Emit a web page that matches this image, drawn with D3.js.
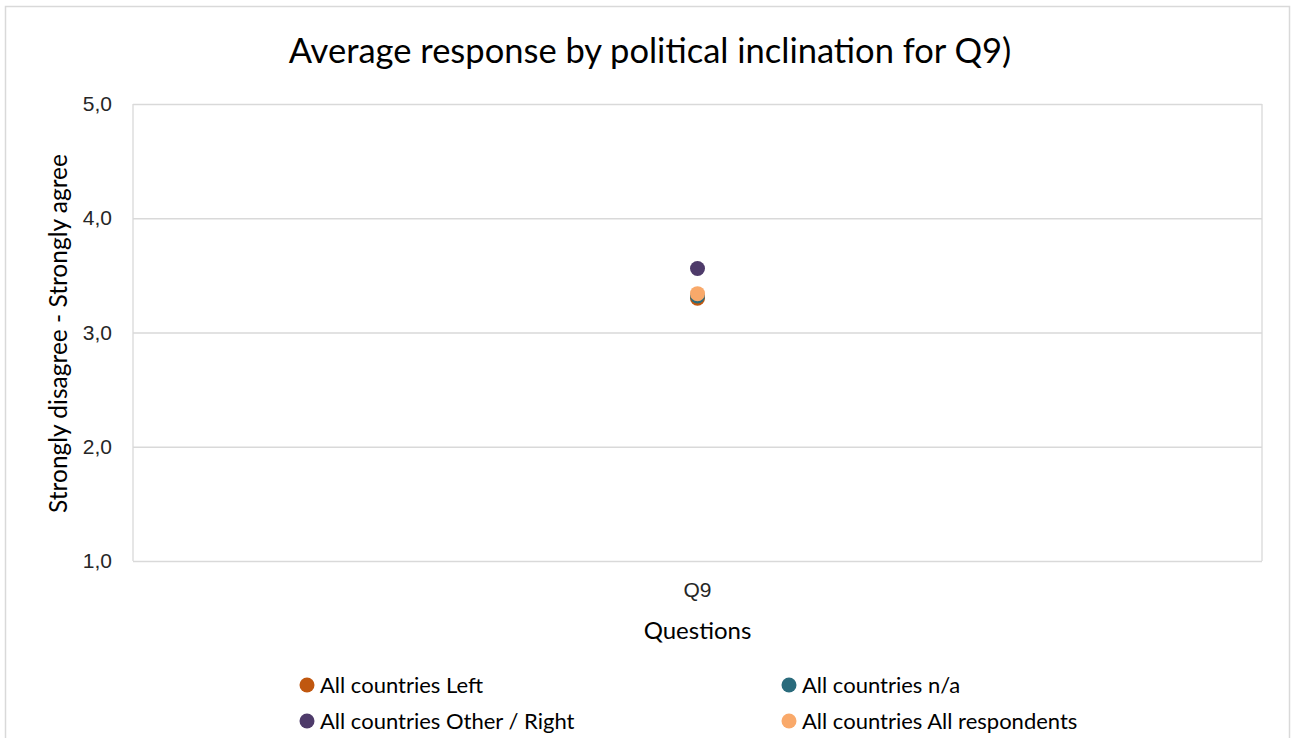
<!DOCTYPE html>
<html>
<head>
<meta charset="utf-8">
<script src="https://cdn.jsdelivr.net/npm/d3@7"></script>
<style>
  html, body { margin: 0; padding: 0; background: #fff; }
  svg { display: block; font-family: Lato, "Open Sans", sans-serif; }
</style>
</head>
<body>
<svg id="chart" width="1292" height="738"></svg>
<script>
// Chart data
const categories = ["Q9"];
const seriesNames = [
  "All countries Left",
  "All countries n/a",
  "All countries Other / Right",
  "All countries All respondents"
];
const seriesColors = ["#C0570F", "#2A6B7C", "#4E3B6A", "#F9A96A"];
const seriesValues = [
  [3.30],
  [3.32],
  [3.56],
  [3.34]
];
const yTicks = [1, 2, 3, 4, 5];

const titleText = "Average response by political inclination for Q9)";
const xTitle = "Questions";
const yTitle = "Strongly disagree - Strongly agree";

const svg = d3.select("#chart");
const plot = { left: 133, right: 1262, top: 104, bottom: 561 };

// Outer chart frame
svg.append("rect")
  .attr("x", 5.5).attr("y", 6.5)
  .attr("width", 1284).attr("height", 740)
  .attr("fill", "#fff").attr("stroke", "#d9d9d9").attr("stroke-width", 1.5);

const x = d3.scaleBand().domain(categories).range([plot.left, plot.right]);
const y = d3.scaleLinear().domain([1, 5]).range([plot.bottom, plot.top]);

// Horizontal gridlines and y tick labels
const yAxis = d3.axisLeft(y)
  .tickValues(yTicks)
  .tickSize(-(plot.right - plot.left))
  .tickPadding(21)
  .tickFormat(d => d3.format(".1f")(d).replace(".", ","));

const gy = svg.append("g")
  .attr("transform", `translate(${plot.left},0)`)
  .call(yAxis);
gy.select(".domain").remove();
gy.selectAll(".tick line").attr("stroke", "#d9d9d9").attr("stroke-width", 1.3);
gy.selectAll(".tick text")
  .attr("fill", "#262626")
  .style("font-size", "21px");

// Plot area side borders
svg.append("line")
  .attr("x1", plot.left).attr("x2", plot.left)
  .attr("y1", plot.top).attr("y2", plot.bottom)
  .attr("stroke", "#d9d9d9").attr("stroke-width", 1.3);
svg.append("line")
  .attr("x1", plot.right).attr("x2", plot.right)
  .attr("y1", plot.top).attr("y2", plot.bottom)
  .attr("stroke", "#d9d9d9").attr("stroke-width", 1.3);

// Category axis labels
const xAxis = d3.axisBottom(x).tickSize(0).tickPadding(21);
const gx = svg.append("g")
  .attr("transform", `translate(0,${plot.bottom})`)
  .call(xAxis);
gx.select(".domain").remove();
gx.selectAll(".tick text")
  .attr("fill", "#262626")
  .style("font-size", "21px");

// Series markers
seriesValues.forEach((vals, i) => {
  svg.append("g")
    .selectAll("circle")
    .data(vals.map((v, j) => ({ cat: categories[j], v })))
    .join("circle")
    .attr("cx", d => x(d.cat) + x.bandwidth() / 2)
    .attr("cy", d => y(d.v))
    .attr("r", 7.5)
    .attr("fill", seriesColors[i]);
});

// Titles
svg.append("text")
  .attr("x", 650).attr("y", 63)
  .attr("text-anchor", "middle")
  .attr("fill", "#000")
  .style("font-size", "34.5px")
  .text(titleText);

svg.append("text")
  .attr("x", (plot.left + plot.right) / 2).attr("y", 639)
  .attr("text-anchor", "middle")
  .attr("fill", "#000")
  .style("font-size", "24px")
  .text(xTitle);

svg.append("text")
  .attr("transform", `translate(67,${(plot.top + plot.bottom) / 2 + 1}) rotate(-90)`)
  .attr("text-anchor", "middle")
  .attr("fill", "#000")
  .style("font-size", "24.5px")
  .text(yTitle);

// Legend
const legendPos = [
  { x: 307, y: 685 },
  { x: 789, y: 685 },
  { x: 307, y: 721 },
  { x: 789, y: 721 }
];
const legend = svg.append("g");
seriesNames.forEach((name, i) => {
  const g = legend.append("g")
    .attr("transform", `translate(${legendPos[i].x},${legendPos[i].y})`);
  g.append("circle").attr("r", 7.5).attr("fill", seriesColors[i]);
  g.append("text")
    .attr("x", 13).attr("y", 0)
    .attr("dy", "0.35em")
    .attr("fill", "#000")
    .style("font-size", "22px")
    .text(name);
});
</script>
</body>
</html>
